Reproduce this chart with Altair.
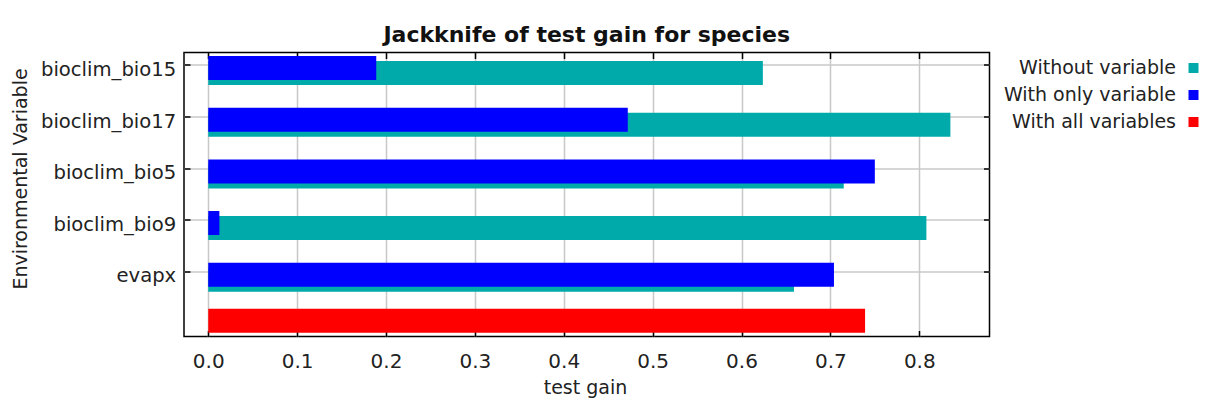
import altair as alt
import pandas as pd

# ---- data ----
variables = ["bioclim_bio15", "bioclim_bio17", "bioclim_bio5", "bioclim_bio9", "evapx"]
without_variable = [0.624, 0.835, 0.715, 0.808, 0.659]
with_only_variable = [0.189, 0.472, 0.750, 0.0125, 0.704]
with_all_variables = 0.739
all_row = "all variables"
series_names = ["Without variable", "With only variable", "With all variables"]
series_colors = ["#00AAAA", "#0000FF", "#FF0000"]
x_ticks = [0.0, 0.1, 0.2, 0.3, 0.4, 0.5, 0.6, 0.7, 0.8]

rows = []
for v, a, b in zip(variables, without_variable, with_only_variable):
    rows.append({"variable": v, "series": series_names[0], "gain": a})
    rows.append({"variable": v, "series": series_names[1], "gain": b})
rows.append({"variable": all_row, "series": series_names[2], "gain": with_all_variables})
df = pd.DataFrame(rows)

W, H = 805.5, 284
FONT = "DejaVu Sans"
TXT = "#222222"
GRID = "#c8c8c8"

x_scale = alt.Scale(domain=[-0.0273, 0.879], nice=False, zero=False)
y_scale = alt.Scale(domain=variables + [all_row], paddingInner=0.5, paddingOuter=0)

color = alt.Color(
    "series:N",
    scale=alt.Scale(domain=series_names, range=series_colors),
    legend=alt.Legend(
        orient="none", legendX=1000, legendY=6, title=None,
        symbolType="square", symbolSize=100, symbolStrokeWidth=0,
        labelAlign="right", labelOffset={"expr": "-27"}, labelFontSize=19, labelLimit=400,
        labelColor=TXT, rowPadding=7, padding=0,
    ),
)

main_x_axis = alt.Axis(
    values=x_ticks, format=".1f", grid=True, gridColor=GRID, gridWidth=1.5,
    ticks=False, tickSize=0, domain=False, labelFontSize=20, labelColor=TXT,
    labelBaseline="alphabetic", labelPadding=30.8, labelFlush=False, labelOverlap=False,
    title="test gain", titleFontSize=19, titleFontWeight="normal", titleColor=TXT,
    titleBaseline="alphabetic", titleY=56.8, titleX=401,
)
main_y_axis = alt.Axis(
    values=variables, grid=True, gridColor=GRID, gridWidth=1.5, bandPosition=0.5,
    ticks=False, tickSize=0, domain=False, labelFontSize=19.6, labelColor=TXT,
    labelPadding=8.3, labelBaseline="alphabetic", labelOffset=10.5, labelLimit=400,
    title="Environmental Variable", titleFontSize=19, titleFontWeight="normal",
    titleColor=TXT, titleAngle=270, titleBaseline="alphabetic", titleAlign="center",
    titleX=-157.3, titleY=126,
)


def tick_axis(orient, offset, values):
    return alt.Axis(
        orient=orient, offset=offset, values=values, labels=False, grid=False,
        domain=False, ticks=True, tickSize=6, tickWidth=1.5, tickColor="black",
        bandPosition=0.5, title=None,
    )


base = alt.Chart(df)

teal = base.transform_filter(alt.datum.series == series_names[0]).mark_bar(
    size=24, yOffset=7.7
).encode(
    x=alt.X("gain:Q", scale=x_scale, axis=main_x_axis),
    y=alt.Y("variable:N", scale=y_scale, sort=variables + [all_row], axis=main_y_axis),
    color=color,
)

blue = base.transform_filter(alt.datum.series == series_names[1]).mark_bar(
    size=24, yOffset=2.7
).encode(
    x=alt.X("gain:Q", scale=x_scale, axis=tick_axis("top", -H, x_ticks)),
    y=alt.Y("variable:N", scale=y_scale, sort=variables + [all_row],
            axis=tick_axis("right", -W, variables)),
    color=color,
)

red = base.transform_filter(alt.datum.series == series_names[2]).mark_bar(
    size=24, yOffset=-2.75
).encode(
    x=alt.X("gain:Q", scale=x_scale, axis=tick_axis("bottom", -H, x_ticks)),
    y=alt.Y("variable:N", scale=y_scale, sort=variables + [all_row],
            axis=tick_axis("left", -W, variables)),
    color=color,
)

chart = alt.layer(teal, blue, red).resolve_axis(
    x="independent", y="independent"
).resolve_scale(x="shared", y="shared").properties(
    width=W,
    height=H,
    title=alt.Title(
        "Jackknife of test gain for species", fontSize=22, fontWeight="bold",
        font=FONT, anchor="middle", frame="group", baseline="alphabetic",
        offset=10.8, dy=23, color="#111111",
    ),
    padding={"left": 176, "top": 44.5, "right": 210, "bottom": 62},
    autosize=alt.AutoSizeParams(type="none"),
).configure(
    font=FONT, background="white"
).configure_view(
    stroke="black", strokeWidth=1.5
)

chart.save("out.html", embed_options={"renderer": "svg", "actions": False})
